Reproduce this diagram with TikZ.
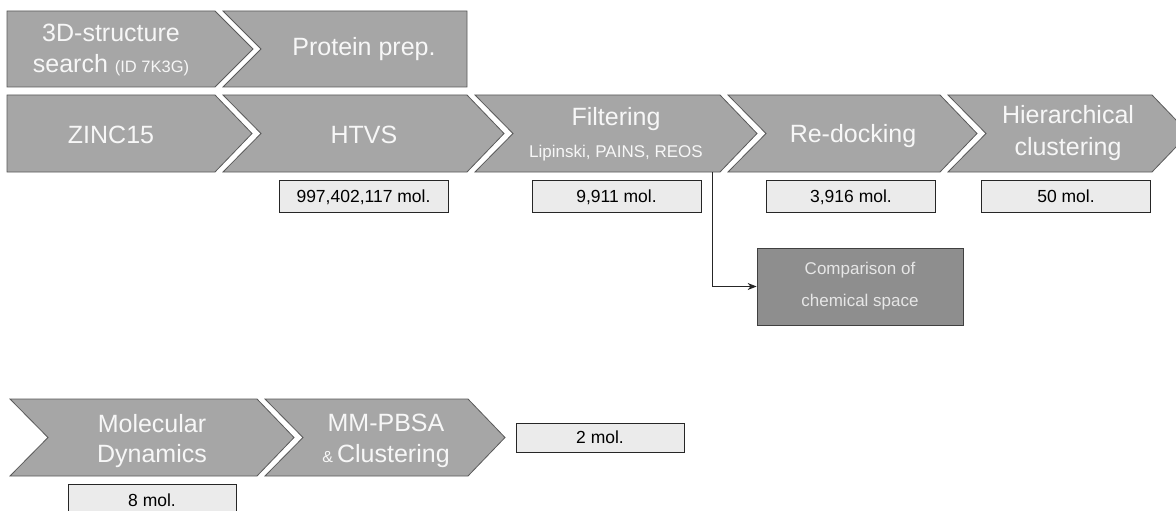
\documentclass[tikz,border=0pt]{standalone}
\usepackage{fontspec}
\setmainfont{Liberation Sans}
\usetikzlibrary{arrows.meta}
\definecolor{chev}{HTML}{A6A6A6}
\definecolor{chevline}{HTML}{5A5A5A}
\definecolor{boxfill}{HTML}{EBEBEB}
\definecolor{cmpfill}{HTML}{8E8E8E}
\definecolor{labtext}{HTML}{F7F7F7}
\definecolor{cmptext}{HTML}{E6E6E6}
\begin{document}
\begin{tikzpicture}[x=1pt,y=-1pt,
  chevron/.style={fill=chev,draw=chevline,line width=0.8pt,line join=miter},
  lbl/.style={text=labtext,font=\fontsize{25}{31}\selectfont,inner sep=0pt,anchor=base},
  sublbl/.style={text=labtext,font=\fontsize{17}{20}\selectfont,inner sep=0pt,anchor=base},
  molbox/.style={draw=black!85,fill=boxfill,line width=0.8pt,minimum width=169pt,minimum height=32pt,inner sep=0pt,text height=13pt,text depth=0.5pt,font=\fontsize{17.5}{20}\selectfont},
  cmpbox/.style={draw=black!75,fill=cmpfill,line width=0.8pt,minimum width=206pt,minimum height=77pt,inner sep=0pt,text=cmptext,align=center,font=\fontsize{17}{32}\selectfont},
  flow/.style={draw=black!85,line width=0.8pt,-{Stealth[length=9pt,width=7pt]}}]
\useasboundingbox (0,0) rectangle (1176,511);
\clip (0,0) rectangle (1176,511);
\fill[white] (0,0) rectangle (1176,511);

% Row 1
\path[chevron] (7,11) -- (215,11) -- (253,49) -- (215,87) -- (7,87) -- cycle;
\path[chevron] (223,11) -- (467,11) -- (467,87) -- (223,87) -- (261,49) -- cycle;
\node[lbl] (s3d) at (111,42) {3D-structure};
\node[lbl] (s3db) at (111,73) {search {\fontsize{16.5}{20}\selectfont (ID 7K3G)}};
\node[lbl] (prot) at (364,56) {Protein prep.};

% Row 2
\path[chevron] (7,95) -- (215,95) -- (252,133.5) -- (215,172) -- (7,172) -- cycle;
\path[chevron] (223,95) -- (467,95) -- (504,133.5) -- (467,172) -- (223,172) -- (261,133.5) -- cycle;
\path[chevron] (475,95) -- (720,95) -- (757,133.5) -- (720,172) -- (475,172) -- (513,133.5) -- cycle;
\path[chevron] (728,95) -- (940,95) -- (977,133.5) -- (940,172) -- (728,172) -- (766,133.5) -- cycle;
\path[chevron] (948,95) -- (1152,95) -- (1189,133.5) -- (1152,172) -- (948,172) -- (986,133.5) -- cycle;
\node[lbl] (zinc) at (111,143) {ZINC15};
\node[lbl] (htvs) at (364,143) {HTVS};
\node[lbl] (filt) at (616,125) {Filtering};
\node[sublbl] (filtsub) at (616,157) {Lipinski, PAINS, REOS};
\node[lbl] (redock) at (853,142) {Re-docking};
\node[lbl] (hier) at (1068,123) {Hierarchical};
\node[lbl] (hierb) at (1068,155) {clustering};

\node[molbox] (m1) at (363.5,196) {997,402,117 mol.};
\node[molbox] (m2) at (616.5,196) {9,911 mol.};
\node[molbox] (m3) at (851,196) {3,916 mol.};
\node[molbox] (m4) at (1066,196) {50 mol.};

% Comparison
\node[cmpbox] (cmp) at (860,286.5) {Comparison of\\chemical space};
\coordinate (filtbot) at (712,172);
\draw[flow] (filtbot) |- (cmp.west);

% Row 3
\path[chevron] (10,399) -- (257,399) -- (294,437.5) -- (257,476) -- (10,476) -- (48,437.5) -- cycle;
\path[chevron] (265,399) -- (468,399) -- (505,437.5) -- (468,476) -- (265,476) -- (303,437.5) -- cycle;
\node[lbl] (md) at (152,432) {Molecular};
\node[lbl] (mdb) at (152,462) {Dynamics};
\node[lbl] (mm) at (386,431) {MM-PBSA};
\node[lbl] (mmb) at (386,462) {{\fontsize{16}{18}\selectfont\&}\,Clustering};

\node[molbox,minimum width=168pt,minimum height=29pt] (m5) at (600,437.5) {2 mol.};
\node[molbox,minimum width=168pt] (m6) at (152,500) {8 mol.};
\end{tikzpicture}
\end{document}
